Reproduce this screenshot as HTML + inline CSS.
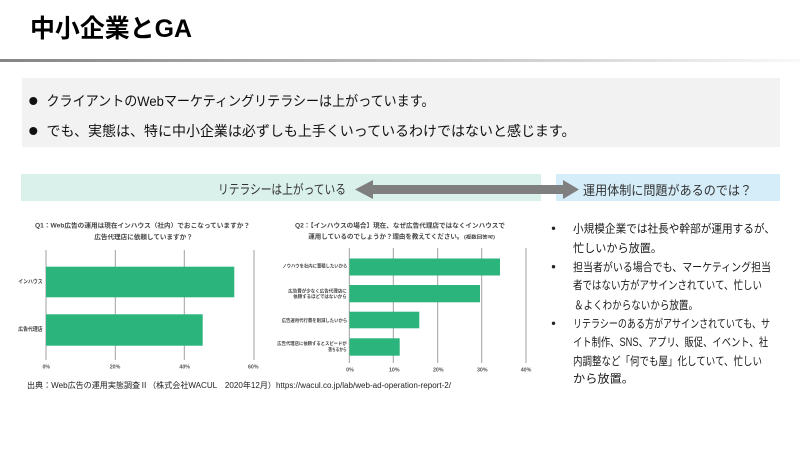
<!DOCTYPE html>
<html><head><meta charset="utf-8">
<style>
html,body{margin:0;padding:0;background:#fff;}
svg{display:block;}
</style></head>
<body>
<svg width="800" height="450" viewBox="0 0 800 450" xmlns="http://www.w3.org/2000/svg" style="font-family:'Liberation Sans','Noto Sans CJK JP',sans-serif">
<defs>
<linearGradient id="g" x1="0" x2="1" y1="0" y2="0">
<stop offset="0" stop-color="#858585"/>
<stop offset="1" stop-color="#f8f8f8"/>
</linearGradient>
</defs>
<rect x="0" y="0" width="800" height="450" fill="#fff"/>

<!-- Title -->
<text x="30" y="37" font-size="25" font-weight="bold" fill="#000" textLength="162" lengthAdjust="spacingAndGlyphs">中小企業とGA</text>
<rect x="0" y="59" width="800" height="3" fill="url(#g)"/>

<!-- Gray box -->
<rect x="22" y="78" width="758" height="69" fill="#f2f2f2"/>
<circle cx="33.3" cy="101" r="4" fill="#111"/>
<text x="46.5" y="106" font-size="14" fill="#111" textLength="388" lengthAdjust="spacingAndGlyphs">クライアントのWebマーケティングリテラシーは上がっています。</text>
<circle cx="33.3" cy="131" r="4" fill="#111"/>
<text x="46.5" y="136" font-size="14" fill="#111" textLength="529" lengthAdjust="spacingAndGlyphs">でも、実態は、特に中小企業は必ずしも上手くいっているわけではないと感じます。</text>

<!-- Band -->
<rect x="21" y="174" width="520" height="27" fill="#daf0ea"/>
<rect x="556" y="174" width="224" height="27" fill="#d5edf8"/>
<text x="218" y="194.2" font-size="13" fill="#333" textLength="128" lengthAdjust="spacingAndGlyphs">リテラシーは上がっている</text>
<polygon points="355,189.5 373,180 373,185 563,185 563,180 579,189.5 563,199 563,194 373,194 373,199" fill="#7f7f7f"/>
<text x="583" y="195" font-size="13" fill="#333" textLength="169" lengthAdjust="spacingAndGlyphs">運用体制に問題があるのでは？</text>

<!-- Chart 1 -->
<g fill="#444" font-weight="bold">
<text x="35" y="227.3" font-size="6.3" textLength="215" lengthAdjust="spacingAndGlyphs">Q1：Web広告の運用は現在インハウス（社内）でおこなっていますか？</text>
<text x="94.3" y="239" font-size="6.3" textLength="98.5" lengthAdjust="spacingAndGlyphs">広告代理店に依頼していますか？</text>
</g>
<g stroke="#a0a0a0" stroke-width="1">
<line x1="46" y1="250" x2="46" y2="360"/>
<line x1="115.3" y1="250" x2="115.3" y2="360"/>
<line x1="184.3" y1="250" x2="184.3" y2="360"/>
<line x1="254" y1="250" x2="254" y2="360"/>
</g>
<rect x="46" y="266.7" width="188.3" height="30.6" fill="#2bb47c"/>
<rect x="46" y="314.3" width="156.7" height="31.4" fill="#2bb47c"/>
<g fill="#444" font-weight="bold" font-size="5.5">
<text x="18.3" y="283.7" textLength="24.4" lengthAdjust="spacingAndGlyphs">インハウス</text>
<text x="18.3" y="331" textLength="24.4" lengthAdjust="spacingAndGlyphs">広告代理店</text>
</g>
<g fill="#555" font-weight="bold" font-size="5.3" text-anchor="middle">
<text x="46.3" y="368.7">0%</text>
<text x="115" y="368.7">20%</text>
<text x="184.7" y="368.7">40%</text>
<text x="253.3" y="368.7">60%</text>
</g>

<!-- Chart 2 -->
<g fill="#444" font-weight="bold">
<text x="295" y="227.3" font-size="6.3" textLength="210" lengthAdjust="spacingAndGlyphs">Q2：【インハウスの場合】現在、なぜ広告代理店ではなくインハウスで</text>
<text x="308.3" y="238.5" font-size="6.3" textLength="155" lengthAdjust="spacingAndGlyphs">運用しているのでしょうか？理由を教えてください。</text>
<text x="464" y="238.5" font-size="4.6" textLength="31" lengthAdjust="spacingAndGlyphs">(複数回答可)</text>
</g>
<g stroke="#a0a0a0" stroke-width="1">
<line x1="349.3" y1="248" x2="349.3" y2="363"/>
<line x1="393.3" y1="248" x2="393.3" y2="363"/>
<line x1="437.7" y1="248" x2="437.7" y2="363"/>
<line x1="481.7" y1="248" x2="481.7" y2="363"/>
<line x1="526" y1="248" x2="526" y2="363"/>
</g>
<g fill="#2bb47c">
<rect x="349.5" y="258.5" width="150.5" height="17"/>
<rect x="349.5" y="285" width="130.5" height="17.3"/>
<rect x="349.5" y="311.7" width="69.8" height="16.6"/>
<rect x="349.5" y="338.3" width="50.2" height="17.4"/>
</g>
<g fill="#444" font-weight="bold" font-size="4.8">
<text x="282.3" y="267.6" textLength="65" lengthAdjust="spacingAndGlyphs">ノウハウを社内に蓄積したいから</text>
<text x="288.3" y="292.4" textLength="58.4" lengthAdjust="spacingAndGlyphs">広告費が少なく広告代理店に</text>
<text x="293.3" y="298.2" textLength="53.4" lengthAdjust="spacingAndGlyphs">依頼するほどではないから</text>
<text x="281.7" y="321.9" textLength="65.6" lengthAdjust="spacingAndGlyphs">広告運用代行費を削減したいから</text>
<text x="277.3" y="345.2" textLength="69.4" lengthAdjust="spacingAndGlyphs">広告代理店に依頼するとスピードが</text>
<text x="328.3" y="350.9" textLength="18.4" lengthAdjust="spacingAndGlyphs">落ちるから</text>
</g>
<g fill="#555" font-weight="bold" font-size="5.3" text-anchor="middle">
<text x="350" y="371.3">0%</text>
<text x="394.3" y="371.3">10%</text>
<text x="438.3" y="371.3">20%</text>
<text x="482.3" y="371.3">30%</text>
<text x="526" y="371.3">40%</text>
</g>

<!-- Footer -->
<text x="27" y="388" font-size="8" fill="#222" textLength="424" lengthAdjust="spacingAndGlyphs">出典：Web広告の運用実態調査Ⅱ（株式会社WACUL　2020年12月）https://wacul.co.jp/lab/web-ad-operation-report-2/</text>

<!-- Right list -->
<g fill="#222">
<circle cx="553.5" cy="228.3" r="1.7"/>
<circle cx="553.5" cy="266.7" r="1.7"/>
<circle cx="553.5" cy="323.3" r="1.7"/>
</g>
<g fill="#1a1a1a" font-size="11.5">
<text x="573" y="232.4" textLength="202" lengthAdjust="spacingAndGlyphs">小規模企業では社長や幹部が運用するが、</text>
<text x="573" y="251.8" textLength="89" lengthAdjust="spacingAndGlyphs">忙しいから放置。</text>
<text x="573" y="270.8" textLength="198" lengthAdjust="spacingAndGlyphs">担当者がいる場合でも、マーケティング担当</text>
<text x="573" y="289.1" textLength="189" lengthAdjust="spacingAndGlyphs">者ではない方がアサインされていて、忙しい</text>
<text x="574" y="309.1" textLength="124" lengthAdjust="spacingAndGlyphs">＆よくわからないから放置。</text>
<text x="573" y="327.4" textLength="197" lengthAdjust="spacingAndGlyphs">リテラシーのある方がアサインされていても、サ</text>
<text x="573" y="345.8" textLength="195" lengthAdjust="spacingAndGlyphs">イト制作、SNS、アプリ、販促、イベント、社</text>
<text x="573" y="364.8" textLength="189" lengthAdjust="spacingAndGlyphs">内調整など「何でも屋」化していて、忙しい</text>
<text x="573" y="382.4" textLength="61" lengthAdjust="spacingAndGlyphs">から放置。</text>
</g>
</svg>
</body></html>
